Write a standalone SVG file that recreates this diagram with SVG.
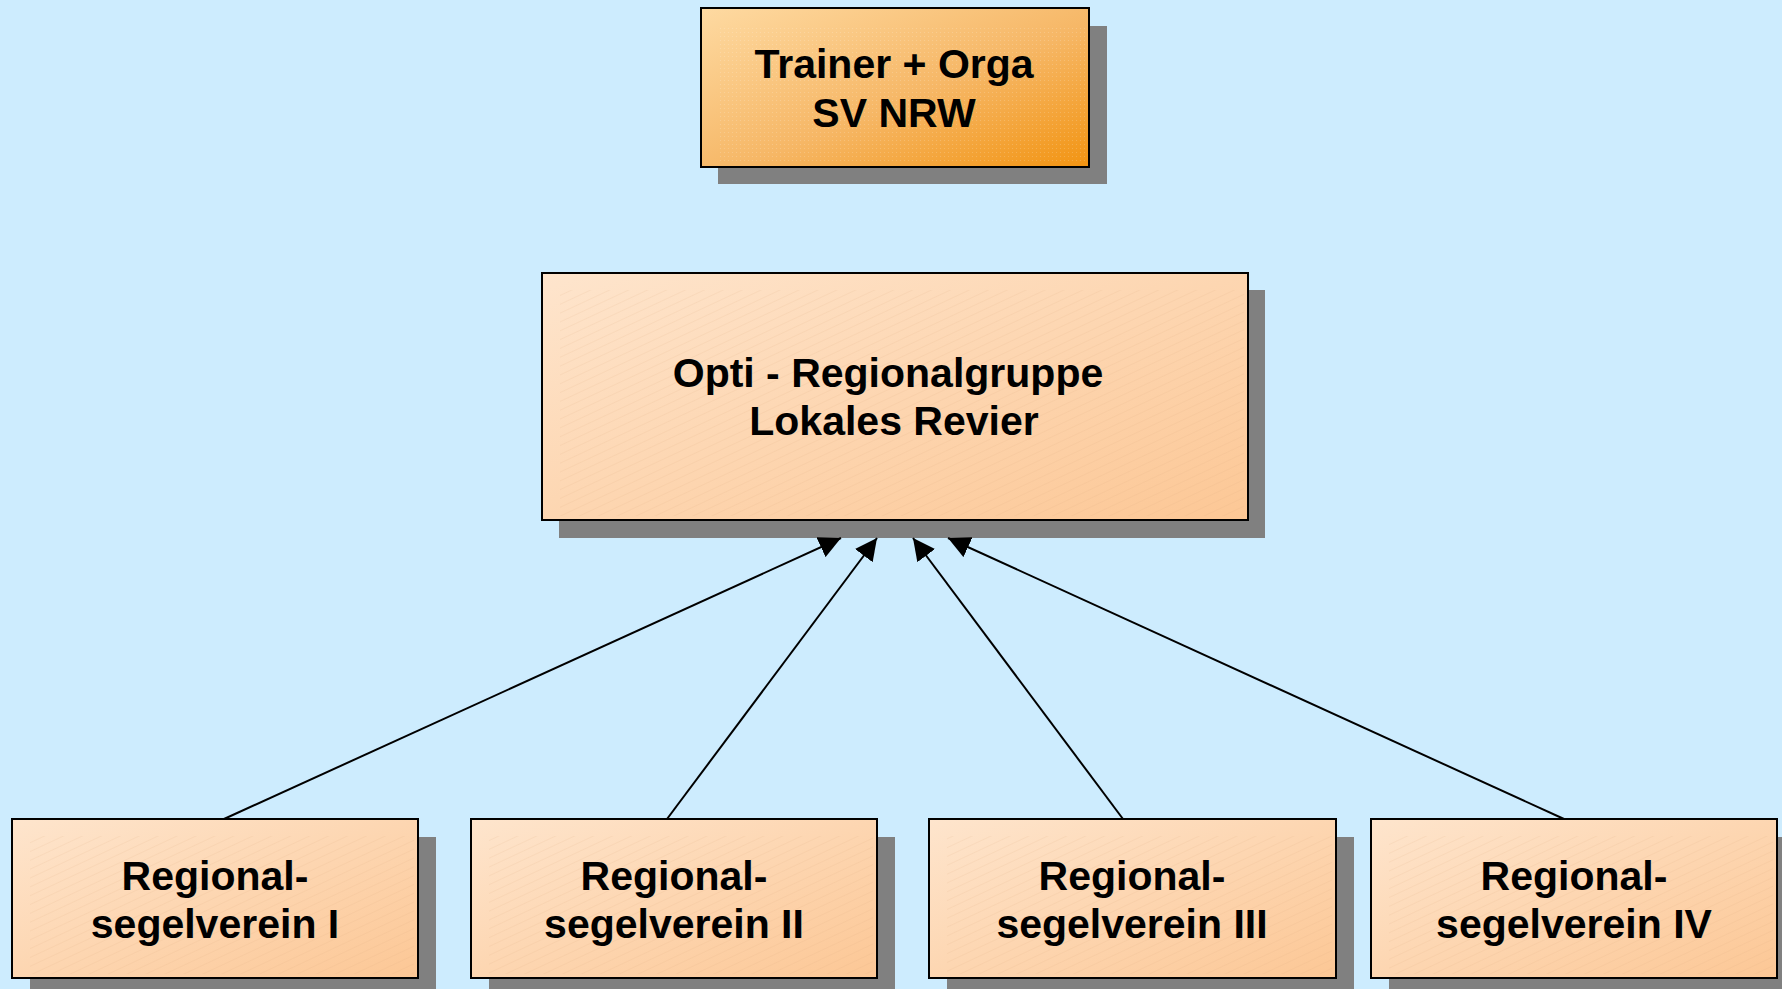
<svg xmlns="http://www.w3.org/2000/svg" width="1782" height="989" viewBox="0 0 1782 989">
  <defs>
    <linearGradient id="gTop" x1="0" y1="0" x2="1" y2="1">
      <stop offset="0" stop-color="#fedaa2"/>
      <stop offset="0.55" stop-color="#f6b766"/>
      <stop offset="1" stop-color="#f29412"/>
    </linearGradient>
    <linearGradient id="gLight" x1="0" y1="0" x2="1" y2="1">
      <stop offset="0" stop-color="#fee5cd"/>
      <stop offset="1" stop-color="#fcc795"/>
    </linearGradient>
    <pattern id="hatch" patternUnits="userSpaceOnUse" width="8" height="8" patternTransform="rotate(-25)">
      <line x1="0" y1="0" x2="8" y2="0" stroke="#d9a878" stroke-width="0.8" stroke-opacity="0.35"/>
    </pattern>
    <pattern id="dots" patternUnits="userSpaceOnUse" width="4" height="4">
      <rect x="0" y="0" width="1" height="1" fill="#ffffff" fill-opacity="0.18"/>
    </pattern>
    <marker id="arr" viewBox="0 0 22 22" refX="22" refY="11" markerWidth="22" markerHeight="22" markerUnits="userSpaceOnUse" orient="auto">
      <path d="M0,0 L22,11 L0,22 Z" fill="#000"/>
    </marker>
  </defs>
  <style>
    .shadow { fill: #808080; }
    .box { stroke: #000; stroke-width: 2; }
    .lbl { font-family: "Liberation Sans", Arial, sans-serif; font-weight: bold; font-size: 41px; fill: #000; text-anchor: middle; }
    .conn { stroke: #000; stroke-width: 2; fill: none; marker-end: url(#arr); }
  </style>
  <rect x="0" y="0" width="1782" height="989" fill="#cdecfe"/>

  <g id="node-trainer">
    <rect class="shadow" x="718" y="26" width="389" height="158"/>
    <rect class="box" x="701" y="8" width="388" height="159" fill="url(#gTop)"/>
    <rect x="719" y="26" width="366" height="137" fill="url(#dots)"/>
    <text class="lbl" x="894" y="78">Trainer + Orga</text>
    <text class="lbl" x="894" y="127">SV NRW</text>
  </g>

  <g id="node-regionalgruppe">
    <rect class="shadow" x="559" y="290" width="706" height="248"/>
    <rect class="box" x="542" y="273" width="706" height="247" fill="url(#gLight)"/>
    <rect x="560" y="290" width="684" height="226" fill="url(#hatch)"/>
    <text class="lbl" x="888" y="387">Opti - Regionalgruppe</text>
    <text class="lbl" x="894" y="435">Lokales Revier</text>
  </g>

  <g id="node-verein1">
    <rect class="shadow" x="30" y="837" width="406" height="160"/>
    <rect class="box" x="12" y="819" width="406" height="159" fill="url(#gLight)"/>
    <rect x="30" y="836" width="384" height="138" fill="url(#hatch)"/>
    <text class="lbl" x="215" y="890">Regional-</text>
    <text class="lbl" x="215" y="938">segelverein I</text>
  </g>

  <g id="node-verein2">
    <rect class="shadow" x="489" y="837" width="406" height="160"/>
    <rect class="box" x="471" y="819" width="406" height="159" fill="url(#gLight)"/>
    <rect x="489" y="836" width="384" height="138" fill="url(#hatch)"/>
    <text class="lbl" x="674" y="890">Regional-</text>
    <text class="lbl" x="674" y="938">segelverein II</text>
  </g>

  <g id="node-verein3">
    <rect class="shadow" x="947" y="837" width="407" height="160"/>
    <rect class="box" x="929" y="819" width="407" height="159" fill="url(#gLight)"/>
    <rect x="947" y="836" width="385" height="138" fill="url(#hatch)"/>
    <text class="lbl" x="1132" y="890">Regional-</text>
    <text class="lbl" x="1132" y="938">segelverein III</text>
  </g>

  <g id="node-verein4">
    <rect class="shadow" x="1389" y="837" width="406" height="160"/>
    <rect class="box" x="1371" y="819" width="406" height="159" fill="url(#gLight)"/>
    <rect x="1389" y="836" width="384" height="138" fill="url(#hatch)"/>
    <text class="lbl" x="1574" y="890">Regional-</text>
    <text class="lbl" x="1574" y="938">segelverein IV</text>
  </g>

  <g id="connectors">
    <line class="conn" x1="224" y1="819" x2="841" y2="538"/>
    <line class="conn" x1="667" y1="819" x2="877" y2="538"/>
    <line class="conn" x1="1123" y1="819" x2="913" y2="538"/>
    <line class="conn" x1="1564" y1="819" x2="948" y2="538"/>
  </g>
</svg>
